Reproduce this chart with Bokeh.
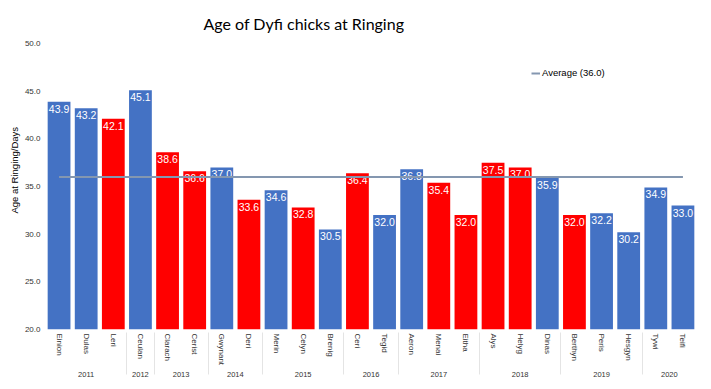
from bokeh.plotting import figure
from bokeh.models import (FactorRange, ColumnDataSource, Legend, LegendItem, Title,
                          PrintfTickFormatter, FixedTicker)
from bokeh.core.properties import value
from bokeh.embed import file_html
from bokeh.resources import INLINE

names = ["Einion", "Dulas", "Leri", "Ceulan", "Clarach", "Cerist", "Gwynant", "Deri",
         "Merin", "Celyn", "Brenig", "Ceri", "Tegid", "Aeron", "Menai", "Eitha",
         "Alys", "Helyg", "Dinas", "Berthyn", "Peris", "Hesgyn", "Tywi", "Teifi"]
years = ["2011", "2011", "2011", "2012", "2013", "2013", "2014", "2014",
         "2015", "2015", "2015", "2016", "2016", "2017", "2017", "2017",
         "2018", "2018", "2018", "2019", "2019", "2019", "2020", "2020"]
ages = [43.9, 43.2, 42.1, 45.1, 38.6, 36.6, 37.0, 33.6,
        34.6, 32.8, 30.5, 36.4, 32.0, 36.8, 35.4, 32.0,
        37.5, 37.0, 35.9, 32.0, 32.2, 30.2, 34.9, 33.0]
is_red = [0, 0, 1, 0, 1, 1, 0, 1,
          0, 1, 0, 1, 0, 0, 1, 1,
          1, 1, 0, 1, 0, 0, 0, 0]
average = 36.0
y_ticks = [20, 25, 30, 35, 40, 45, 50]

BLUE = "#4472C4"
RED = "#FF0000"
AVG = "#8497B0"

factors = list(zip(years, names))
src = ColumnDataSource(dict(
    x=factors,
    top=ages,
    color=[RED if r else BLUE for r in is_red],
    label=[f"{a:.1f}" for a in ages],
))

p = figure(x_range=FactorRange(*factors, group_padding=0, range_padding=0),
           y_range=(20, 50), frame_width=651, frame_height=286,
           output_backend="svg", toolbar_location=None,
           min_border_left=45, min_border_right=15, min_border_top=43, min_border_bottom=58)

p.title.text = "Age of Dyfi chicks at Ringing"
p.title.align = "left"
p.title.offset = 158
p.title.standoff = 22
p.title.text_font = "Lato"
p.title.text_font_size = "16px"
p.title.text_font_style = "normal"
p.title.text_color = "#000000"

p.add_layout(Title(text="Age at Ringing/Days", align="left", offset=116,
                   text_font="Liberation Sans", text_font_size="9.5px",
                   text_font_style="normal", text_color="#000000", standoff=4), "left")

p.outline_line_color = None
p.xgrid.grid_line_color = None
p.ygrid.grid_line_color = None

p.yaxis.ticker = FixedTicker(ticks=y_ticks)
p.yaxis.formatter = PrintfTickFormatter(format="%.1f")
p.yaxis.axis_line_color = None
p.yaxis.major_tick_line_color = None
p.yaxis.major_tick_out = 0
p.yaxis.minor_tick_line_color = None
p.yaxis.major_label_text_font = "Liberation Sans"
p.yaxis.major_label_text_font_size = "8px"
p.yaxis.major_label_text_color = "#333333"
p.yaxis.major_label_standoff = 5

p.xaxis.axis_line_color = None
p.xaxis.major_tick_line_color = None
p.xaxis.major_tick_out = 0
p.xaxis.major_label_orientation = "vertical"
p.xaxis.major_label_text_font = "Liberation Sans"
p.xaxis.major_label_text_font_size = "8px"
p.xaxis.major_label_text_color = "#333333"
p.xaxis.major_label_standoff = 4
p.xaxis.group_text_font = "Liberation Sans"
p.xaxis.group_text_font_size = "7.5px"
p.xaxis.group_text_font_style = "normal"
p.xaxis.group_text_color = "#333333"
p.xaxis.separator_line_color = "#e4e4e4"
p.xaxis.separator_line_width = 1

p.vbar(x="x", top="top", bottom=20, width=0.84, fill_color="color", line_color=None, source=src)
p.text(x="x", y="top", text="label", source=src, text_color="white",
       text_align="center", text_baseline="top", y_offset=3,
       text_font=value("Liberation Sans"), text_font_size="10.5px")

avg_line = p.line(x=[factors[0], factors[-1]], y=[average, average], line_color=AVG, line_width=2)

legend = Legend(items=[LegendItem(label=f"Average ({average:.1f})", renderers=[avg_line])],
                location=(486, 251), glyph_width=9, glyph_height=10, label_height=10,
                label_standoff=2, padding=0, margin=0, spacing=0,
                border_line_color=None, background_fill_alpha=0,
                label_text_font="Liberation Sans", label_text_font_size="9.5px",
                label_text_color="#000000")
p.add_layout(legend)

open("out.html", "w").write(file_html(p, INLINE))
